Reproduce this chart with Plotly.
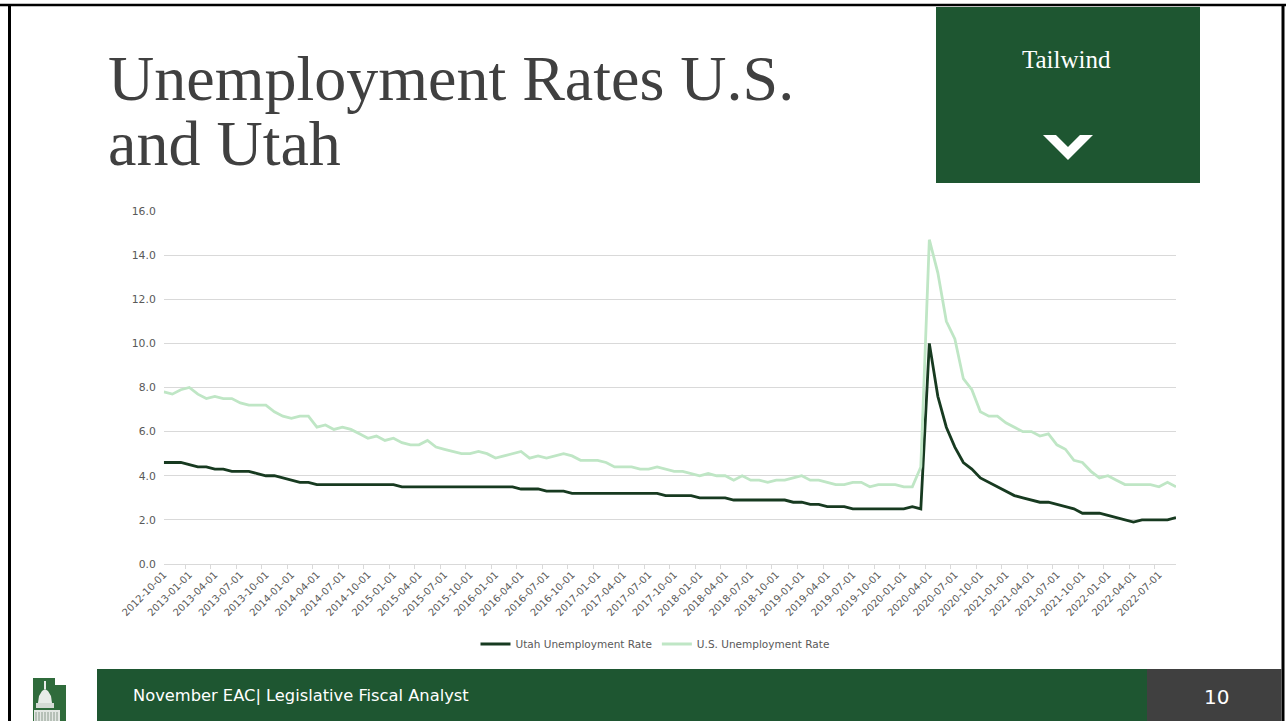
import pandas as pd
import plotly.graph_objects as go

W, H = 1286, 721

# Monthly observations, October 2012 through September 2022
months = pd.date_range("2012-10-01", "2022-09-01", freq="MS").strftime("%Y-%m-%d").tolist()

utah_rate = [
    4.6, 4.6, 4.6,
    4.5, 4.4, 4.4, 4.3, 4.3, 4.2, 4.2, 4.2, 4.1, 4.0, 4.0, 3.9, 3.8,
    3.7, 3.7, 3.6, 3.6, 3.6, 3.6, 3.6, 3.6, 3.6, 3.6, 3.6, 3.6,
    3.5, 3.5, 3.5, 3.5, 3.5, 3.5, 3.5, 3.5, 3.5, 3.5, 3.5, 3.5,
    3.5, 3.5, 3.4, 3.4, 3.4, 3.3, 3.3, 3.3, 3.2, 3.2, 3.2, 3.2,
    3.2, 3.2, 3.2, 3.2, 3.2, 3.2, 3.2, 3.1, 3.1, 3.1, 3.1, 3.0,
    3.0, 3.0, 3.0, 2.9, 2.9, 2.9, 2.9, 2.9, 2.9, 2.9, 2.8, 2.8,
    2.7, 2.7, 2.6, 2.6, 2.6, 2.5, 2.5, 2.5, 2.5, 2.5, 2.5, 2.5,
    2.6, 2.5, 10.0, 7.6, 6.2, 5.3, 4.6, 4.3, 3.9, 3.7, 3.5, 3.3,
    3.1, 3.0, 2.9, 2.8, 2.8, 2.7, 2.6, 2.5, 2.3, 2.3, 2.3, 2.2,
    2.1, 2.0, 1.9, 2.0, 2.0, 2.0, 2.0, 2.1,
]

us_rate = [
    7.8, 7.7, 7.9,
    8.0, 7.7, 7.5, 7.6, 7.5, 7.5, 7.3, 7.2, 7.2, 7.2, 6.9, 6.7,
    6.6, 6.7, 6.7, 6.2, 6.3, 6.1, 6.2, 6.1, 5.9, 5.7, 5.8, 5.6,
    5.7, 5.5, 5.4, 5.4, 5.6, 5.3, 5.2, 5.1, 5.0, 5.0, 5.1, 5.0,
    4.8, 4.9, 5.0, 5.1, 4.8, 4.9, 4.8, 4.9, 5.0, 4.9, 4.7, 4.7,
    4.7, 4.6, 4.4, 4.4, 4.4, 4.3, 4.3, 4.4, 4.3, 4.2, 4.2, 4.1,
    4.0, 4.1, 4.0, 4.0, 3.8, 4.0, 3.8, 3.8, 3.7, 3.8, 3.8, 3.9,
    4.0, 3.8, 3.8, 3.7, 3.6, 3.6, 3.7, 3.7, 3.5, 3.6, 3.6, 3.6,
    3.5, 3.5, 4.4, 14.7, 13.2, 11.0, 10.2, 8.4, 7.9, 6.9, 6.7, 6.7,
    6.4, 6.2, 6.0, 6.0, 5.8, 5.9, 5.4, 5.2, 4.7, 4.6, 4.2, 3.9,
    4.0, 3.8, 3.6, 3.6, 3.6, 3.6, 3.5, 3.7, 3.5,
]

series_names = ["Utah Unemployment Rate", "U.S. Unemployment Rate"]
y_ticks = [0, 2, 4, 6, 8, 10, 12, 14, 16]

title_lines = ["Unemployment Rates U.S.", "and Utah"]
badge_text = "Tailwind"
footer_text = "November EAC| Legislative Fiscal Analyst"
page_number = "10"

GREEN = "#1E5631"
DARK = "#404040"
UTAH_COLOR = "#173A20"
US_COLOR = "#BFE6C5"
AXIS_GRAY = "#595959"
GRID = "#D9D9D9"


def px(x):
    return x / W


def py(y):
    return 1 - y / H


def poly(points):
    return "M " + " L ".join(f"{px(a):.5f},{py(b):.5f}" for a, b in points) + " Z"


fig = go.Figure()
fig.add_trace(go.Scatter(x=months, y=utah_rate, mode="lines", name=series_names[0],
                         line=dict(color=UTAH_COLOR, width=2.8)))
fig.add_trace(go.Scatter(x=months, y=us_rate, mode="lines", name=series_names[1],
                         line=dict(color=US_COLOR, width=2.8)))

fig.update_layout(
    width=W, height=H,
    margin=dict(l=0, r=0, t=0, b=0, autoexpand=False),
    paper_bgcolor="white", plot_bgcolor="white",
    showlegend=True,
    legend=dict(orientation="h", x=px(655), xanchor="center", y=py(644), yanchor="middle",
                font=dict(family="DejaVu Sans", size=10.5, color=AXIS_GRAY),
                bgcolor="rgba(0,0,0,0)", itemwidth=30),
    xaxis=dict(
        domain=[px(163.8), px(1176)], type="category", automargin=False,
        tickmode="linear", tick0=0, dtick=3, tickson="boundaries",
        tickangle=-45, ticks="outside", ticklen=4, tickcolor=GRID,
        showline=True, linecolor=GRID, linewidth=1, showgrid=False,
        tickfont=dict(family="DejaVu Sans", size=10, color=AXIS_GRAY),
    ),
    yaxis=dict(
        domain=[py(564), py(211)], range=[0, 16], tickmode="array", tickvals=y_ticks,
        tickformat=".1f", showgrid=True, gridcolor=GRID, gridwidth=1, zeroline=False,
        showline=False, ticks="", automargin=False, ticklabelstandoff=7,
        tickfont=dict(family="DejaVu Sans", size=10.8, color=AXIS_GRAY),
    ),
)

shapes = []
# slide frame
shapes.append(dict(type="line", xref="paper", yref="paper", x0=0, x1=1, y0=py(5), y1=py(5),
                   line=dict(color="black", width=2.5)))
shapes.append(dict(type="line", xref="paper", yref="paper", x0=px(9.5), x1=px(9.5), y0=py(5), y1=0,
                   line=dict(color="black", width=3)))
shapes.append(dict(type="line", xref="paper", yref="paper", x0=px(1283), x1=px(1283), y0=py(5), y1=0,
                   line=dict(color="black", width=3)))
# badge box with chevron
shapes.append(dict(type="rect", xref="paper", yref="paper", x0=px(936), x1=px(1200), y0=py(183), y1=py(7),
                   fillcolor=GREEN, line=dict(width=0), layer="above"))
chev = [(1043, 135), (1056, 135), (1068, 147), (1080, 135), (1093, 135), (1068, 160)]
shapes.append(dict(type="path", xref="paper", yref="paper", path=poly(chev),
                   fillcolor="white", line=dict(width=0), layer="above"))
# footer band and page-number box
shapes.append(dict(type="rect", xref="paper", yref="paper", x0=px(97), x1=px(1147), y0=0, y1=py(669),
                   fillcolor=GREEN, line=dict(width=0), layer="above"))
shapes.append(dict(type="rect", xref="paper", yref="paper", x0=px(1147), x1=px(1281.5), y0=0, y1=py(669),
                   fillcolor=DARK, line=dict(width=0), layer="above"))
# capitol logo
state = [(33, 678), (55, 678), (55, 685), (66, 685), (66, 721), (33, 721)]
shapes.append(dict(type="path", xref="paper", yref="paper", path=poly(state),
                   fillcolor="#2F6B3B", line=dict(width=0), layer="above"))
dome = [(38, 703), (39, 696), (42, 691), (45, 689), (48, 691), (51, 696), (52, 703)]
shapes.append(dict(type="path", xref="paper", yref="paper", path=poly(dome),
                   fillcolor="#E8ECE8", line=dict(width=0), layer="above"))
shapes.append(dict(type="rect", xref="paper", yref="paper", x0=px(44), x1=px(46), y0=py(689), y1=py(681),
                   fillcolor="#E8ECE8", line=dict(width=0), layer="above"))
shapes.append(dict(type="rect", xref="paper", yref="paper", x0=px(36), x1=px(54), y0=py(708), y1=py(703),
                   fillcolor="#D5DBD5", line=dict(width=0), layer="above"))
shapes.append(dict(type="rect", xref="paper", yref="paper", x0=px(34), x1=px(60), y0=0, y1=py(710),
                   fillcolor="#E3E7E3", line=dict(width=0), layer="above"))
for cx in range(36, 60, 3):
    shapes.append(dict(type="line", xref="paper", yref="paper", x0=px(cx), x1=px(cx), y0=0, y1=py(712),
                       line=dict(color="#8A9A8C", width=1), layer="above"))
fig.update_layout(shapes=shapes)

annotations = [
    dict(text=title_lines[0], x=px(106), y=py(79), xanchor="left", yanchor="middle",
         font=dict(family="Liberation Serif", size=64, color=DARK)),
    dict(text=title_lines[1], x=px(106), y=py(143), xanchor="left", yanchor="middle",
         font=dict(family="Liberation Serif", size=64, color=DARK)),
    dict(text=badge_text, x=px(1066), y=py(60), xanchor="center", yanchor="middle",
         font=dict(family="Liberation Serif", size=25, color="white")),
    dict(text=footer_text, x=px(131), y=py(695), xanchor="left", yanchor="middle",
         font=dict(family="DejaVu Sans", size=16.3, color="white")),
    dict(text=page_number, x=px(1216), y=py(697), xanchor="center", yanchor="middle",
         font=dict(family="DejaVu Sans", size=20, color="white")),
]
for a in annotations:
    a.update(xref="paper", yref="paper", showarrow=False)
fig.update_layout(annotations=annotations)

fig.write_html("out.html")
